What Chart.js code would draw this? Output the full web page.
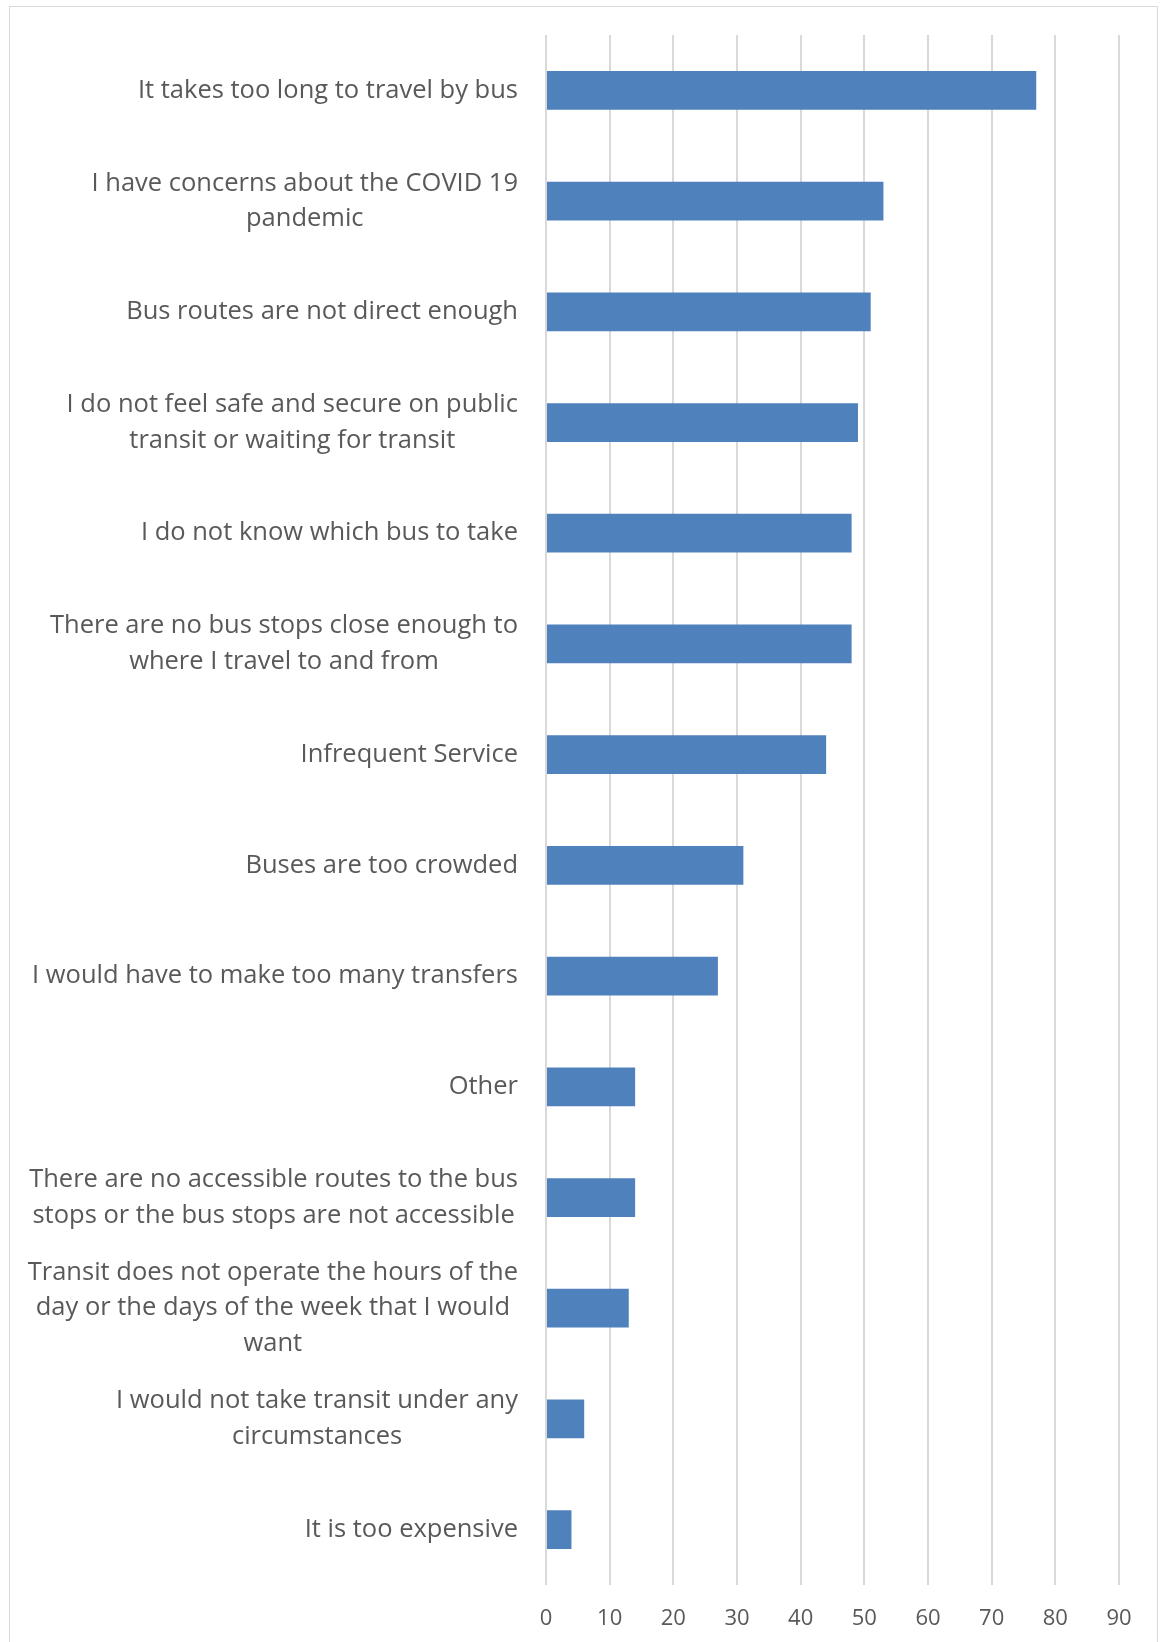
<!DOCTYPE html>
<html>
<head>
<meta charset="utf-8">
<script src="https://cdn.jsdelivr.net/npm/chart.js@4"></script>
<style>
  html, body { margin: 0; padding: 0; background: #fff; }
  #wrap { position: relative; width: 1163px; height: 1642px; overflow: hidden; }
  #frame {
    position: absolute; left: 9px; top: 6px; width: 1149px; height: 1700px;
    border: 1px solid #d9d9d9; box-sizing: border-box;
  }
  #stats { position: absolute; left: 0; top: 0; }
</style>
</head>
<body>
<div id="wrap">
  <div id="frame"></div>
  <canvas id="stats" width="1163" height="1642"></canvas>
</div>
<script>
// reasons for not riding the bus, top to bottom
const reasons = [
  "It takes too long to travel by bus",
  ["I have concerns about the COVID 19", "pandemic"],
  "Bus routes are not direct enough",
  ["I do not feel safe and secure on public", "transit or waiting for transit"],
  "I do not know which bus to take",
  ["There are no bus stops close enough to", "where I travel to and from"],
  "Infrequent Service",
  "Buses are too crowded",
  "I would have to make too many transfers",
  "Other",
  ["There are no accessible routes to the bus", "stops or the bus stops are not accessible"],
  ["Transit does not operate the hours of the", "day or the days of the week that I would", "want"],
  ["I would not take transit under any", "circumstances"],
  "It is too expensive",
];

const responses = [77, 53, 51, 49, 48, 48, 44, 31, 27, 14, 14, 13, 6, 4];

const xMin = 0;
const xMax = 90;
const xStep = 10;

const textColor = "#595959";
const gridColor = "#d9d9d9";
const barColor = "#4f81bd";
const fontFamily = "'Open Sans', sans-serif";
const labelSize = 25.5;
const labelLine = 35.6;
const labelGap = 28;

// category labels: each block is centred on its own widest line,
// with that line ending just left of the axis
const centredLabels = {
  id: "centredLabels",
  afterDraw(chart) {
    const ctx = chart.ctx;
    const yScale = chart.scales.y;
    const right = chart.chartArea.left - labelGap;
    ctx.save();
    ctx.font = `${labelSize}px ${fontFamily}`;
    ctx.fillStyle = textColor;
    ctx.textAlign = "center";
    ctx.textBaseline = "middle";
    chart.data.labels.forEach((label, i) => {
      const lines = Array.isArray(label) ? label : [label];
      const widest = Math.max(...lines.map((l) => ctx.measureText(l).width));
      const cx = right - widest / 2;
      const cy = yScale.getPixelForTick(i);
      const top = cy - ((lines.length - 1) * labelLine) / 2;
      lines.forEach((line, j) => {
        ctx.fillText(line, cx, top + j * labelLine);
      });
    });
    ctx.restore();
  },
};

const stats = document.querySelector("#stats");

const myChart = new Chart(stats, {
  type: "bar",
  data: {
    labels: reasons,
    datasets: [
      {
        label: "Responses",
        data: responses,
        backgroundColor: barColor,
        borderWidth: 0,
        categoryPercentage: 1,
        barPercentage: 0.35,
      },
    ],
  },
  options: {
    indexAxis: "y",
    responsive: false,
    animation: false,
    layout: { padding: { top: 35, right: 44, left: 0, bottom: 0 } },
    plugins: {
      legend: { display: false },
      tooltip: { enabled: false },
    },
    scales: {
      x: {
        min: xMin,
        max: xMax,
        border: { display: false },
        grid: { color: gridColor, lineWidth: 2, drawTicks: false },
        ticks: {
          stepSize: xStep,
          color: textColor,
          padding: 21,
          font: { family: fontFamily, size: 22 },
        },
        afterFit: (scale) => { scale.height = 57; },
      },
      y: {
        border: { display: false },
        grid: { display: false, drawTicks: false },
        ticks: { display: false },
        afterFit: (scale) => { scale.width = 546; },
      },
    },
  },
  plugins: [centredLabels],
});
</script>
</body>
</html>
